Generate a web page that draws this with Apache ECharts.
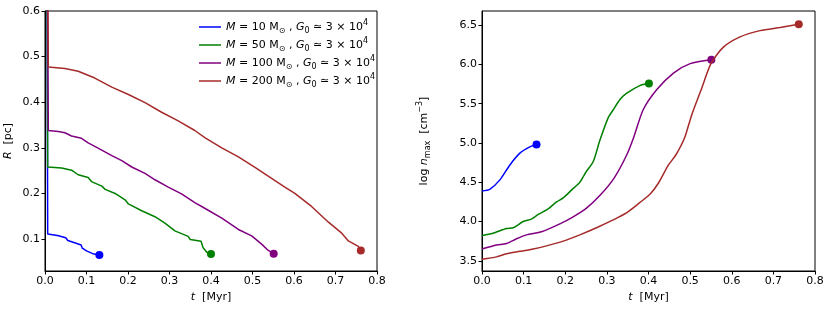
<!DOCTYPE html>
<html><head><meta charset="utf-8">
<script src="https://cdn.jsdelivr.net/npm/echarts@6/dist/echarts.min.js"></script>
<style>html,body{margin:0;padding:0;background:#fff}#c{width:830px;height:310px}</style>
</head><body><div id="c"></div>
<script>
// ---- data ----
const masses = [10, 50, 100, 200];
const colors = ['#0000ff', '#008000', '#800080', '#a52a2a'];
const xTicks = [0, 0.1, 0.2, 0.3, 0.4, 0.5, 0.6, 0.7, 0.8];
const rTicks = [0.1, 0.2, 0.3, 0.4, 0.5, 0.6];
const nTicks = [3.5, 4.0, 4.5, 5.0, 5.5, 6.0, 6.5];

// R [pc] vs t [Myr]
const R10 = [[0.004,1.0],[0.0065,0.111],[0.030,0.108],[0.050,0.103],[0.055,0.097],[0.075,0.091],[0.087,0.087],[0.090,0.080],[0.100,0.074],[0.115,0.068],[0.131,0.065]];
const R50 = [[0.004,1.0],[0.0065,0.258],[0.040,0.256],[0.064,0.251],[0.080,0.241],[0.104,0.235],[0.112,0.226],[0.137,0.216],[0.145,0.209],[0.169,0.200],[0.193,0.186],[0.201,0.177],[0.233,0.162],[0.265,0.149],[0.289,0.135],[0.313,0.118],[0.345,0.106],[0.350,0.099],[0.376,0.095],[0.381,0.081],[0.390,0.071],[0.400,0.067]];
const R100 = [[0.004,1.0],[0.008,0.338],[0.032,0.336],[0.048,0.333],[0.064,0.326],[0.088,0.321],[0.104,0.311],[0.129,0.299],[0.161,0.283],[0.185,0.272],[0.209,0.258],[0.241,0.244],[0.265,0.230],[0.297,0.214],[0.329,0.199],[0.361,0.180],[0.386,0.167],[0.426,0.146],[0.466,0.121],[0.498,0.107],[0.522,0.089],[0.538,0.075],[0.551,0.068]];
const R200 = [[0.004,1.0],[0.008,0.477],[0.048,0.474],[0.080,0.468],[0.120,0.453],[0.161,0.433],[0.201,0.417],[0.241,0.399],[0.281,0.378],[0.321,0.359],[0.361,0.338],[0.386,0.322],[0.426,0.300],[0.466,0.280],[0.506,0.257],[0.546,0.233],[0.578,0.214],[0.602,0.200],[0.643,0.171],[0.683,0.137],[0.715,0.113],[0.731,0.096],[0.755,0.084],[0.761,0.075]];

// log n_max [cm^-3] vs t [Myr]
const N10 = [[0.0,4.39],[0.0185,4.41],[0.043,4.53],[0.067,4.72],[0.091,4.87],[0.115,4.95],[0.131,4.98]];
const N50 = [[0,3.82],[0.026,3.85],[0.059,3.91],[0.075,3.92],[0.099,4.0],[0.119,4.03],[0.135,4.09],[0.159,4.16],[0.179,4.25],[0.195,4.30],[0.215,4.40],[0.235,4.50],[0.251,4.64],[0.267,4.76],[0.283,5.03],[0.303,5.32],[0.315,5.42],[0.331,5.55],[0.347,5.63],[0.379,5.73],[0.401,5.756]];
const N100 = [[0,3.65],[0.035,3.70],[0.059,3.72],[0.083,3.78],[0.107,3.83],[0.143,3.87],[0.187,3.97],[0.219,4.06],[0.251,4.17],[0.283,4.33],[0.317,4.55],[0.347,4.84],[0.365,5.08],[0.387,5.42],[0.420,5.68],[0.460,5.89],[0.500,6.01],[0.551,6.06]];
const N200 = [[0,3.52],[0.035,3.55],[0.059,3.59],[0.091,3.62],[0.123,3.65],[0.155,3.69],[0.195,3.75],[0.235,3.83],[0.275,3.92],[0.315,4.02],[0.347,4.11],[0.379,4.24],[0.404,4.35],[0.424,4.49],[0.448,4.72],[0.466,4.85],[0.487,5.07],[0.504,5.36],[0.526,5.67],[0.550,6.01],[0.580,6.22],[0.620,6.35],[0.668,6.43],[0.716,6.47],[0.761,6.51]];

const Rsets = [R10, R50, R100, R200];
const Nsets = [N10, N50, N100, N200];

// ---- chart ----
const FONT = 'DejaVu Sans';
const names = masses.map(m => 'M' + m);
const rich = {
  i: {fontStyle: 'italic', fontFamily: FONT, fontSize: 11, color: '#000', lineHeight: 16},
  n: {fontFamily: FONT, fontSize: 11, color: '#000', lineHeight: 16},
  sub: {fontFamily: FONT, fontSize: 8, color: '#000', verticalAlign: 'bottom', lineHeight: 16},
  sup: {fontFamily: FONT, fontSize: 8, color: '#000', verticalAlign: 'top', lineHeight: 12}
};

function xAxis(idx) {
  return {
    gridIndex: idx, type: 'value', min: 0, max: 0.8, interval: 0.1,
    name: '{i|t}{n|  [Myr]}', nameLocation: 'middle', nameGap: 18,
    nameTextStyle: {rich: rich},
    axisLine: {show: true, onZero: false, lineStyle: {color: '#000', width: 1}},
    axisTick: {show: true, length: 3.5, lineStyle: {color: '#000'}},
    axisLabel: {color: '#000', fontFamily: FONT, fontSize: 11, margin: 5, formatter: v => v.toFixed(1)},
    splitLine: {show: false}
  };
}

const series = [];
Rsets.forEach((d, k) => {
  series.push({name: names[k], type: 'line', xAxisIndex: 0, yAxisIndex: 0, data: d,
    showSymbol: false, symbol: 'none', clip: true,
    lineStyle: {color: colors[k], width: 1.5}, itemStyle: {color: colors[k]}, silent: true, animation: false});
  series.push({name: names[k] + 'e', type: 'scatter', xAxisIndex: 0, yAxisIndex: 0,
    data: [d[d.length - 1]], symbolSize: 8, itemStyle: {color: colors[k], opacity: 1}, animation: false});
});
Nsets.forEach((d, k) => {
  series.push({name: names[k] + 'n', type: 'line', xAxisIndex: 1, yAxisIndex: 1, data: d,
    showSymbol: false, symbol: 'none', clip: true, smooth: 0.25,
    lineStyle: {color: colors[k], width: 1.5}, itemStyle: {color: colors[k]}, animation: false});
  series.push({name: names[k] + 'ne', type: 'scatter', xAxisIndex: 1, yAxisIndex: 1,
    data: [d[d.length - 1]], symbolSize: 8, itemStyle: {color: colors[k], opacity: 1}, animation: false});
});

const option = {
  animation: false,
  backgroundColor: '#fff',
  grid: [
    {left: 45, top: 11, width: 332, height: 260, show: true, borderColor: '#000', borderWidth: 1, backgroundColor: 'transparent'},
    {left: 482, top: 11, width: 333, height: 260, show: true, borderColor: '#000', borderWidth: 1, backgroundColor: 'transparent'}
  ],
  xAxis: [xAxis(0), xAxis(1)],
  yAxis: [
    {gridIndex: 0, type: 'value', min: 0.03, max: 0.6,
     name: '{i|R}{n|  [pc]}', nameLocation: 'middle', nameGap: 29, nameTextStyle: {rich: rich},
     axisLine: {show: true, onZero: false, lineStyle: {color: '#000'}},
     axisTick: {show: true, length: 3.5, customValues: rTicks, lineStyle: {color: '#000'}},
     axisLabel: {color: '#000', fontFamily: FONT, fontSize: 11, margin: 5, customValues: rTicks, formatter: v => v.toFixed(1)},
     splitLine: {show: false}},
    {gridIndex: 1, type: 'value', min: 3.37, max: 6.68,
     name: '{n|log }{i|n}{sub|max}{n|  [cm}{sup|−3}{n|]}', nameLocation: 'middle', nameGap: 50, nameTextStyle: {rich: rich},
     axisLine: {show: true, onZero: false, lineStyle: {color: '#000'}},
     axisTick: {show: true, length: 3.5, customValues: nTicks, lineStyle: {color: '#000'}},
     axisLabel: {color: '#000', fontFamily: FONT, fontSize: 11, margin: 5, customValues: nTicks, formatter: v => v.toFixed(1)},
     splitLine: {show: false}}
  ],
  legend: [{
    show: true,
    data: names.map((n, k) => ({name: n, icon: 'rect', itemStyle: {color: colors[k]}})),
    orient: 'vertical', left: 194, top: 14, itemWidth: 22, itemHeight: 1.5, itemGap: 2,
    selectedMode: false,
    textStyle: {rich: rich, fontFamily: FONT, fontSize: 11, color: '#000'},
    formatter: function (nm) {
      const m = masses[names.indexOf(nm)];
      return '{i|M}{n| = ' + m + ' M}{sub|⊙}{n| , }{i|G}{sub|0}{n| ≃ 3 × 10}{sup|4}';
    }
  }],
  series: series
};

const chart = echarts.init(document.getElementById('c'), null, {renderer: 'canvas'});
chart.setOption(option);
</script>
</body></html>
